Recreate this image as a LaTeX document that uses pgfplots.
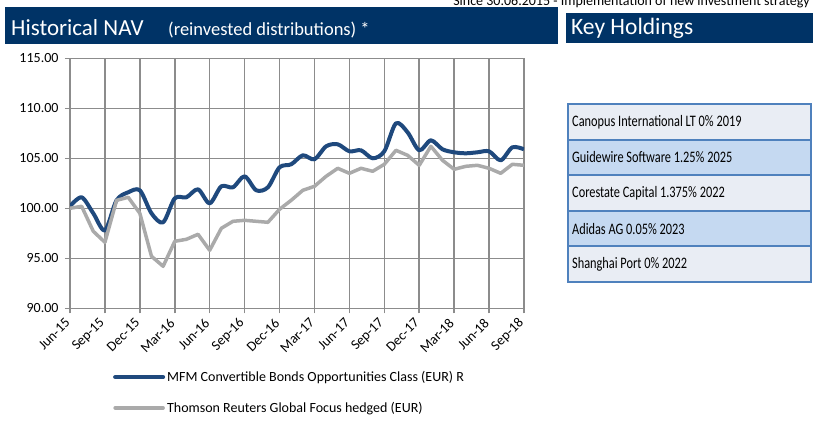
\documentclass[border=0pt]{standalone}
\usepackage{fontspec}
\setmainfont{Carlito}
\usepackage{pgfplots}
\pgfplotsset{compat=1.18}

\definecolor{navy}{RGB}{0,51,102}
\definecolor{fundblue}{RGB}{31,73,125}
\definecolor{idxgray}{RGB}{170,170,170}
\definecolor{gridgray}{RGB}{140,140,140}
\definecolor{rowlight}{RGB}{233,237,244}
\definecolor{rowblue}{RGB}{197,217,241}
\definecolor{rowline}{RGB}{79,129,189}

\begin{document}
\begin{tikzpicture}
\path[use as bounding box] (0,0) rectangle (813bp,-427bp);

\begin{scope}[x=1bp,y=-1bp]
  % header banners
  \fill[navy] (5,7) rectangle (558,44);
  \node[anchor=base west, inner sep=0, text=white, font=\fontsize{23bp}{26bp}\selectfont] at (11,35) {Historical NAV};
  \node[anchor=base west, inner sep=0, text=white, font=\fontsize{18.5bp}{22bp}\selectfont] at (168,35) {(reinvested distributions) *};
  \fill[navy] (566,13) rectangle (813,43);
  \node[anchor=base west, inner sep=0, text=white, font=\fontsize{23.5bp}{26bp}\selectfont] at (571,34) {Key Holdings};
  \node[anchor=base east, inner sep=0, font=\fontsize{14bp}{16bp}\selectfont] at (810,5) {Since 30.06.2015 - Implementation of new investment strategy};

  % key holdings table
  \foreach \name/\col [count=\k from 0] in {
      {Canopus International LT 0\% 2019}/rowlight,
      {Guidewire Software 1.25\% 2025}/rowblue,
      {Corestate Capital 1.375\% 2022}/rowlight,
      {Adidas AG 0.05\% 2023}/rowblue,
      {Shanghai Port 0\% 2022}/rowlight}{
    \pgfmathsetmacro\top{104+35.6*\k}
    \pgfmathsetmacro\bot{\top+35.6}
    \pgfmathsetmacro\mid{\top+17.8}
    \filldraw[fill=\col, draw=rowline, line width=2bp] (568,\top) rectangle (811,\bot);
    \node[anchor=west, inner sep=0, font=\fontsize{16bp}{18bp}\selectfont] at (572,\mid) {\scalebox{0.77}[1]{\name}};
  }
\end{scope}

\begin{axis}[
  at={(70bp,-308.3bp)}, anchor=south west,
  scale only axis, width=454bp, height=250bp,
  xmin=0, xmax=39, ymin=90, ymax=115,
  xtick={0,3,...,39},
  xticklabels={Jun-15,Sep-15,Dec-15,Mar-16,Jun-16,Sep-16,Dec-16,Mar-17,Jun-17,Sep-17,Dec-17,Mar-18,Jun-18,Sep-18},
  ytick={90,95,100,105,110,115},
  tick pos=left, tick align=outside, major tick length=5bp,
  grid=major,
  major grid style={draw=gridgray, line width=1.6bp},
  axis line style={draw=gridgray, line width=1.6bp},
  tick style={draw=gridgray, line width=1.6bp},
  ticklabel style={font=\fontsize{14bp}{16bp}\selectfont},
  xticklabel style={rotate=45, anchor=east},
  xticklabel shift=5bp,
  yticklabel style={xshift=-3bp, /pgf/number format/.cd, fixed, fixed zerofill, precision=2},
  /pgf/number format/assume math mode=true,
  legend cell align=left,
  legend style={at={(0.088,-0.235)}, anchor=north west, draw=none, fill=none,
    row sep=15bp, font=\fontsize{14bp}{16bp}\selectfont},
  legend image code/.code={\draw[#1, line cap=round] (0bp,0bp) -- (48bp,0bp);},
]
\addplot[fundblue, line width=4bp, smooth, line join=round] coordinates {
  (0,100.2)(1,101.1)(2,99.5)(3,97.8)(4,100.8)(5,101.6)(6,101.8)(7,99.5)(8,98.6)(9,101.0)
  (10,101.1)(11,101.9)(12,100.5)(13,102.2)(14,102.1)(15,103.2)(16,101.8)(17,102.1)(18,104.1)(19,104.4)
  (20,105.3)(21,104.9)(22,106.2)(23,106.4)(24,105.7)(25,105.8)(26,105.0)(27,105.7)(28,108.5)(29,107.6)
  (30,105.8)(31,106.8)(32,105.9)(33,105.6)(34,105.5)(35,105.6)(36,105.7)(37,104.8)(38,106.1)(39,105.9)
};
\addlegendentry{MFM Convertible Bonds Opportunities Class (EUR) R}
\addplot[idxgray, line width=3.5bp, line join=round] coordinates {
  (0,100.0)(1,100.2)(2,97.7)(3,96.6)(4,100.8)(5,101.1)(6,99.5)(7,95.2)(8,94.2)(9,96.7)
  (10,96.9)(11,97.4)(12,95.8)(13,98.0)(14,98.7)(15,98.8)(16,98.7)(17,98.6)(18,99.9)(19,100.8)
  (20,101.8)(21,102.2)(22,103.2)(23,104.0)(24,103.5)(25,104.0)(26,103.7)(27,104.4)(28,105.8)(29,105.3)
  (30,104.3)(31,106.2)(32,104.8)(33,103.9)(34,104.2)(35,104.3)(36,104.0)(37,103.5)(38,104.4)(39,104.3)
};
\addlegendentry{Thomson Reuters Global Focus hedged (EUR)}
\end{axis}
\end{tikzpicture}
\end{document}
